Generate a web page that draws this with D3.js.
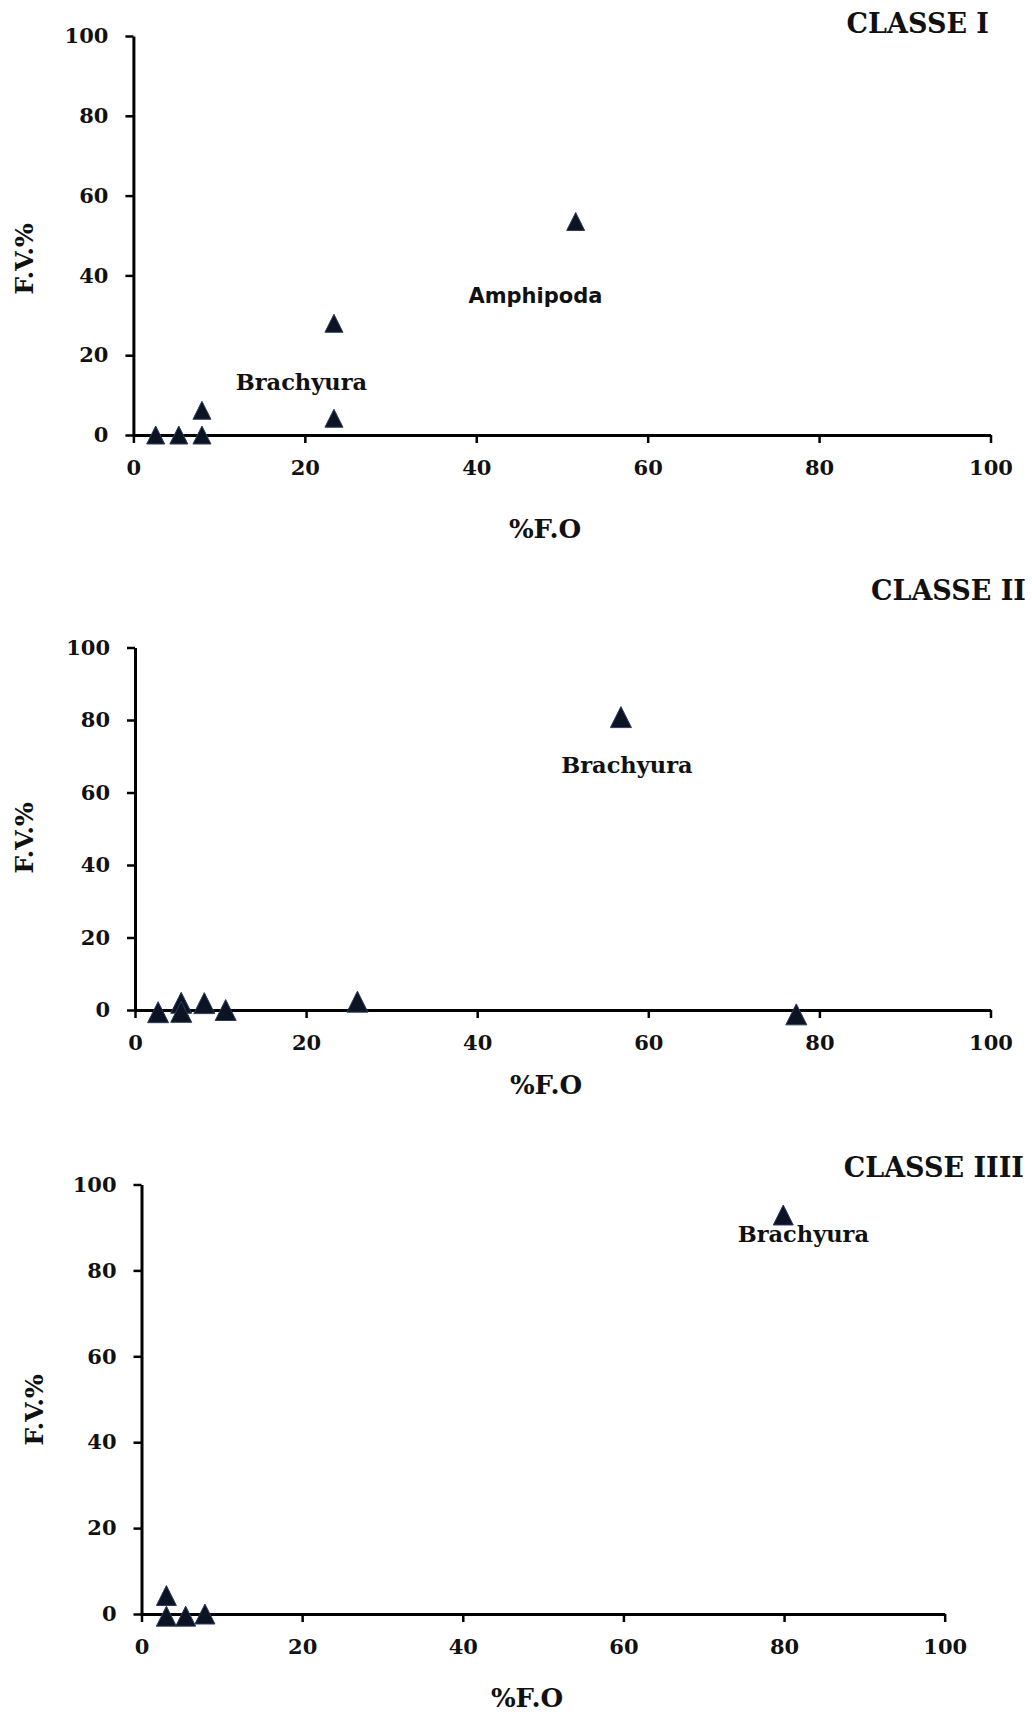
<!DOCTYPE html>
<html>
<head>
<meta charset="utf-8">
<script src="https://cdn.jsdelivr.net/npm/d3@7/dist/d3.min.js"></script>
<style>
  body { margin: 0; background: #fff; }
  svg text { font-family: "DejaVu Serif", serif; font-weight: bold; fill: #111; }
</style>
</head>
<body>
<div id="chart"></div>
<script>
// values (x = %F.O, y = F.V.%)
const class1FO = [2.6, 5.3, 8.0, 8.0, 23.4, 23.4, 51.6];
const class1FV = [0, 0, 0, 6.2, 4.2, 28.0, 53.5];

const class2FO = [2.7, 5.4, 5.4, 8.1, 10.6, 26.0, 56.8, 77.3];
const class2FV = [-0.6, 2.0, -0.5, 1.9, 0, 2.3, 80.8, -1.2];

const class3FO = [3.1, 3.1, 5.5, 7.9, 79.9];
const class3FV = [4.3, -0.5, -0.5, 0, 92.9];

const axisTicks = [0, 20, 40, 60, 80, 100];
const titles = ["CLASSE I", "CLASSE II", "CLASSE IIII"];

// labels placed in data space of their panel
const labels1 = [{ text: "Amphipoda", x: 46.9, y: 34.8, sans: true }, { text: "Brachyura", x: 19.6, y: 13.3 }];
const labels2 = [{ text: "Brachyura", x: 57.5, y: 67.6 }];
const labels3 = [{ text: "Brachyura", x: 82.4, y: 88.5 }];

const svg = d3.select("#chart").append("svg")
  .attr("width", 1032)
  .attr("height", 1715);

const panels = [
  { fo: class1FO, fv: class1FV, title: titles[0], labels: labels1,
    x0: 133.4, x1: 990.5, y0: 435, y1: 36, marker: 18,
    titleX: 989, titleY: 33, xTitleY: 538, xTitleX: 545, yTitleX: 33, yTitleY: 259 },
  { fo: class2FO, fv: class2FV, title: titles[1], labels: labels2,
    x0: 135, x1: 990.5, y0: 1010, y1: 647.5, marker: 21,
    titleX: 1026, titleY: 600, xTitleY: 1094, xTitleX: 546, yTitleX: 33, yTitleY: 838 },
  { fo: class3FO, fv: class3FV, title: titles[2], labels: labels3,
    x0: 141.5, x1: 944.7, y0: 1614, y1: 1184.5, marker: 20,
    titleX: 1024, titleY: 1177, xTitleY: 1707, xTitleX: 527, yTitleX: 43, yTitleY: 1410 }
];

function trianglePath(s) {
  const h = s / 2;
  return `M0,${-h}L${h},${h}L${-h},${h}Z`;
}

panels.forEach(p => {
  const x = d3.scaleLinear().domain([0, 100]).range([p.x0, p.x1]);
  const y = d3.scaleLinear().domain([0, 100]).range([p.y0, p.y1]);
  const g = svg.append("g");

  // y axis
  const ya = g.append("g")
    .attr("transform", `translate(${p.x0},0)`)
    .call(d3.axisLeft(y).tickValues(axisTicks).tickSize(8).tickSizeOuter(0).tickPadding(17));
  // x axis
  const xa = g.append("g")
    .attr("transform", `translate(0,${p.y0})`)
    .call(d3.axisBottom(x).tickValues(axisTicks).tickSize(8).tickSizeOuter(0).tickPadding(17));

  [ya, xa].forEach(a => {
    a.select(".domain").attr("stroke", "#000").attr("stroke-width", 3);
    a.selectAll(".tick line").attr("stroke", "#000").attr("stroke-width", 2.5);
    a.selectAll(".tick text")
      .style("font-family", "DejaVu Serif")
      .style("font-weight", "bold")
      .style("font-size", "21px")
      .attr("fill", "#111");
  });

  // markers
  const pts = p.fo.map((v, i) => ({ fo: v, fv: p.fv[i] }));
  g.selectAll(".pt")
    .data(pts)
    .enter()
    .append("path")
    .attr("class", "pt")
    .attr("d", trianglePath(p.marker))
    .attr("transform", d => `translate(${x(d.fo)},${y(d.fv)})`)
    .attr("fill", "#0c1424")
    .attr("stroke", "#2b3d5e")
    .attr("stroke-width", 1);

  // point labels
  g.selectAll(".lbl")
    .data(p.labels)
    .enter()
    .append("text")
    .attr("x", d => x(d.x))
    .attr("y", d => y(d.y))
    .attr("dy", "0.35em")
    .attr("text-anchor", "middle")
    .style("font-family", d => d.sans ? "DejaVu Sans" : "DejaVu Serif")
    .style("font-size", d => d.sans ? "21px" : "22.5px")
    .text(d => d.text);

  // panel title
  g.append("text")
    .attr("x", p.titleX)
    .attr("y", p.titleY)
    .attr("text-anchor", "end")
    .style("font-size", "27px")
    .text(p.title);

  // axis titles
  g.append("text")
    .attr("x", p.xTitleX)
    .attr("y", p.xTitleY)
    .attr("text-anchor", "middle")
    .style("font-size", "26px")
    .text("%F.O");

  g.append("text")
    .attr("transform", `translate(${p.yTitleX},${p.yTitleY}) rotate(-90)`)
    .attr("text-anchor", "middle")
    .style("font-size", "25px")
    .text("F.V.%");
});
</script>
</body>
</html>
